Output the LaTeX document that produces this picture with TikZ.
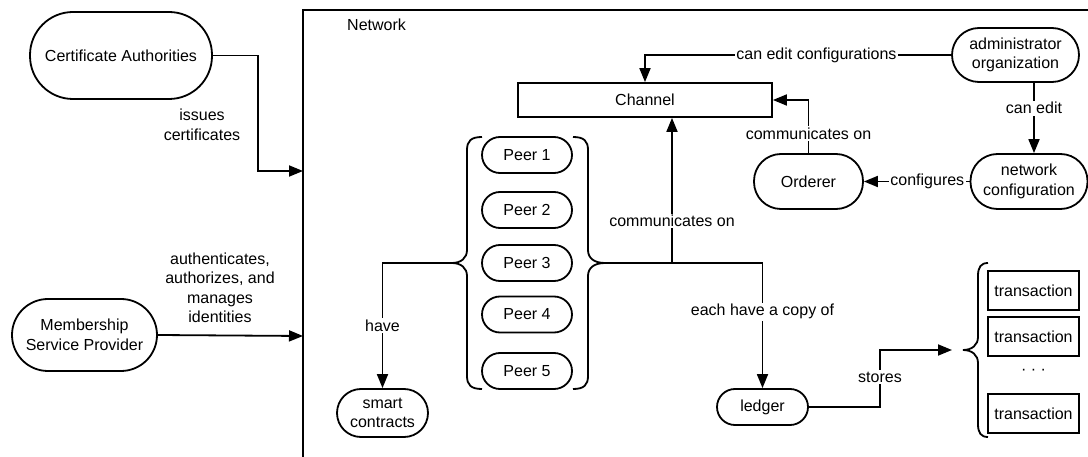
\documentclass[tikz,border=0pt]{standalone}
\usepackage{fontspec}
\setmainfont{Liberation Sans}
\usetikzlibrary{arrows.meta}
\begin{document}
\begin{tikzpicture}[x=1pt,y=-1pt,
  font=\fontsize{16}{19.5}\selectfont,
  line width=1.8pt,
  stad/.style={draw, rectangle, align=center, inner sep=2pt, rounded corners=#1},
  box/.style={draw, rectangle, align=center, inner sep=2pt},
  arr/.style={-{Triangle[length=14pt,width=11pt]}},
  lbl/.style={fill=white, inner sep=1.5pt, align=center}]
\useasboundingbox (0,0) rectangle (1088,457);

% network frame
\draw (303,457) |- (1088,10);
\node[anchor=west] (netlabel) at (343,25) {Network};
\coordinate (netca) at (303,171);
\coordinate (netmsp) at (303,336);

% outside nodes
\node[stad=43pt, minimum width=182pt, minimum height=87pt] (ca) at (121,55.5) {Certificate Authorities};
\node[stad=36pt, minimum width=145pt, minimum height=72pt] (msp) at (84.5,335) {Membership\\Service Provider};

% inside nodes
\node[box, minimum width=254pt, minimum height=34pt] (channel) at (645,100) {Channel};
\node[stad=27pt, minimum width=127pt, minimum height=54pt] (admin) at (1015.5,55) {administrator\\organization};
\node[stad=27pt, minimum width=117pt, minimum height=55pt] (netconf) at (1029,181.5) {network\\configuration};
\node[stad=27pt, minimum width=109pt, minimum height=55pt] (orderer) at (808.5,181.5) {Orderer};
\foreach \i/\y in {1/155,2/210,3/263,4/314.5,5/371}
  \node[stad=18pt, minimum width=90pt, minimum height=36pt] (peer\i) at (527,\y) {Peer \i};
\node[stad=24pt, minimum width=91pt, minimum height=48pt] (smart) at (382.5,413) {smart\\contracts};
\node[stad=18pt, minimum width=91pt, minimum height=36pt] (ledger) at (762.5,407) {ledger};
\foreach \i/\y in {1/290.5,2/336.5,3/413.5}
  \node[box, minimum width=91pt, minimum height=39pt] (tx\i) at (1033.5,\y) {transaction};
\node (dots) at (1033.5,372) {· · ·};

% braces around peers
\draw (482,137) .. controls (471,137) and (467,141) .. (467,150) -- (467,250)
  .. controls (467,258) and (461,263) .. (452,263)
  .. controls (461,263) and (467,268) .. (467,276) -- (467,376)
  .. controls (467,385) and (471,389) .. (482,389);
\draw (573,137) .. controls (584,137) and (588,141) .. (588,150) -- (588,250)
  .. controls (588,258) and (594,263) .. (605,263)
  .. controls (594,263) and (588,268) .. (588,276) -- (588,376)
  .. controls (588,385) and (584,389) .. (573,389);
\coordinate (lbt) at (452,263);
\coordinate (rbt) at (605,263);

% brace around transactions
\draw (988,263) .. controls (981,263) and (978,267) .. (978,276) -- (978,337)
  .. controls (978,345) and (972,350) .. (963,350)
  .. controls (972,350) and (978,355) .. (978,363) -- (978,424)
  .. controls (978,433) and (981,437) .. (988,437);
\coordinate (tbt) at (963,350);

% connectors
\draw[arr] (ca.east) -- ++(45,0) |- (netca);
\node[align=center] (lblca) at (202,125) {issues\\certificates};
\draw[arr] (msp.east) -- (netmsp);
\node[align=center] (lblmsp) at (220,288) {authenticates,\\authorizes, and\\manages\\identities};

\draw[arr] (admin.west) -| (channel.north) node[lbl, pos=0.22] {can edit configurations};
\draw[arr] ([xshift=5pt]netconf.north |- admin.south) -- ([xshift=5pt]netconf.north) node[lbl, pos=0.36] {can edit};
\draw[arr] (netconf.west) -- (orderer.east) node[lbl, pos=0.4] {configures};
\draw[arr] (orderer.north) |- (channel.east) node[lbl, pos=0.185] {communicates on};

\draw[arr] (lbt) -| (smart.north) node[lbl, pos=0.75] {have};
\coordinate (jn) at (672,263);
\draw (rbt) -- (jn);
\draw[arr] (jn) -- (jn |- channel.south) node[lbl, pos=0.29] {communicates on};
\draw[arr] (jn) -| (ledger.north) node[lbl, pos=0.695] {each have a copy of};

\coordinate (stc) at (880,350);
\draw[arr] (ledger.east) -| (stc) -- ([xshift=-11pt]tbt);
\node[lbl] (lblst) at (880,377) {stores};
\end{tikzpicture}
\end{document}
